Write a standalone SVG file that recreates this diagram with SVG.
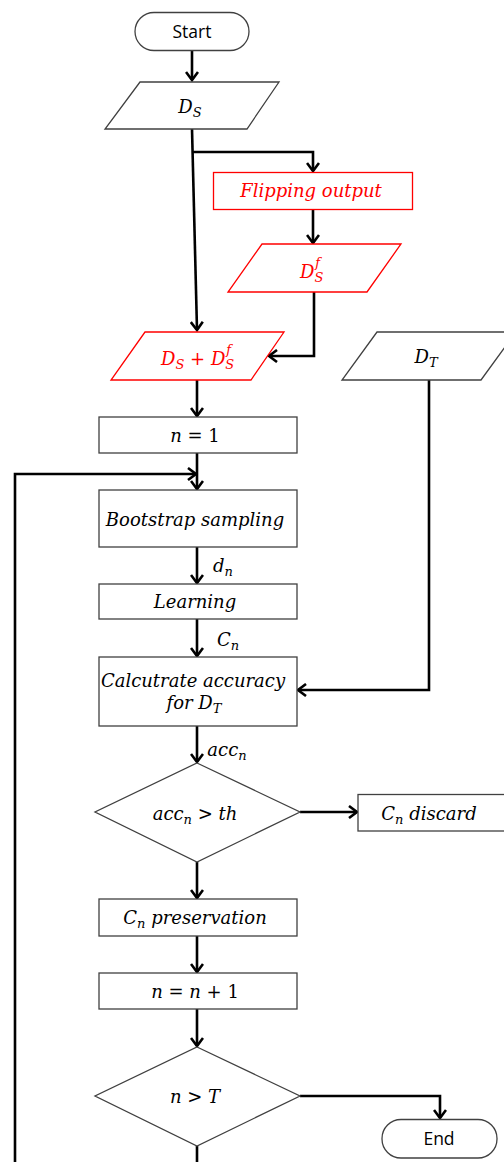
<svg xmlns="http://www.w3.org/2000/svg" width="504" height="1162" viewBox="0 0 504 1162">
<defs>
<style>
.bx{fill:#fff;stroke:#404040;stroke-width:1.3}
.rb{fill:#fff;stroke:#ff0000;stroke-width:1.3}
.m{font-family:"DejaVu Serif",serif;font-style:italic;font-size:18px;fill:#000;text-anchor:middle}
.red{fill:#ff0000}
.sub{font-size:13px}
.up{font-style:normal}
.s{font-family:"Open Sans","Liberation Sans",sans-serif;font-size:17.5px;fill:#000;text-anchor:middle}
.c{fill:none;stroke:#000;stroke-width:2.6}
</style>
<marker id="ah" markerUnits="userSpaceOnUse" markerWidth="14" markerHeight="14" refX="11" refY="7" orient="auto">
<path d="M3,1 L11,7 L3,13" fill="none" stroke="#000" stroke-width="2.6"/>
</marker>
</defs>
<g id="connectors">
<path class="c" d="M192,51 V80" marker-end="url(#ah)"/>
<path class="c" d="M192,129 L197,330" marker-end="url(#ah)"/>
<path class="c" d="M192,152 H313 V171" marker-end="url(#ah)"/>
<path class="c" d="M313,210 V243" marker-end="url(#ah)"/>
<path class="c" d="M314,292 V356 H269" marker-end="url(#ah)"/>
<path class="c" d="M197,380 V416" marker-end="url(#ah)"/>
<path class="c" d="M197,453 V489" marker-end="url(#ah)"/>
<path class="c" d="M15,1162 V474 H196" marker-end="url(#ah)"/>
<path class="c" d="M197,547 V583" marker-end="url(#ah)"/>
<path class="c" d="M197,619 V656" marker-end="url(#ah)"/>
<path class="c" d="M429,380 V690 H298" marker-end="url(#ah)"/>
<path class="c" d="M197,726 V762" marker-end="url(#ah)"/>
<path class="c" d="M300,812 H357" marker-end="url(#ah)"/>
<path class="c" d="M197,862 V898" marker-end="url(#ah)"/>
<path class="c" d="M197,936 V972" marker-end="url(#ah)"/>
<path class="c" d="M197,1009 V1046" marker-end="url(#ah)"/>
<path class="c" d="M300,1096 H440 V1118" marker-end="url(#ah)"/>
<path class="c" d="M197,1146 V1162"/>
<text class="m" x="223" y="572">d<tspan class="sub" dy="4">n</tspan></text>
<text class="m" x="228" y="646">C<tspan class="sub" dy="4">n</tspan></text>
<text class="m" x="227" y="756">acc<tspan class="sub" dy="4">n</tspan></text>
</g>
<g id="start">
<rect class="bx" x="135" y="12.5" width="114" height="38" rx="19"/>
<text class="s" x="192" y="38">Start</text>
</g>
<g id="ds">
<polygon class="bx" points="140,82 279,82 247,129 105,129"/>
<text class="m" x="190" y="113">D<tspan class="sub" dy="4">S</tspan></text>
</g>
<g id="flipping">
<rect class="rb" x="213.5" y="172.5" width="199" height="37"/>
<text class="m red" x="311" y="197">Flipping output</text>
</g>
<g id="dsf">
<polygon class="rb" points="262,244 401,244 367,292 228,292"/>
<text class="m red" x="300" y="278" style="text-anchor:start">D<tspan class="sub" dy="4">S</tspan><tspan class="sub" dx="-8" dy="-15">f</tspan></text>
</g>
<g id="dsplus">
<polygon class="rb" points="145,332 284,332 251,380 111,380"/>
<text class="m red" x="161" y="365" style="text-anchor:start">D<tspan class="sub" dy="4">S</tspan><tspan class="up" dy="-4"> + </tspan>D<tspan class="sub" dy="4">S</tspan><tspan class="sub" dx="-8" dy="-15">f</tspan></text>
</g>
<g id="dt">
<polygon class="bx" points="377,332 516,332 481,380 342,380"/>
<text class="m" x="426" y="363">D<tspan class="sub" dy="4">T</tspan></text>
</g>
<g id="n1">
<rect class="bx" x="99" y="417" width="198" height="36"/>
<text class="m" x="195" y="442">n<tspan class="up"> = 1</tspan></text>
</g>
<g id="bootstrap">
<rect class="bx" x="99" y="490" width="198" height="57"/>
<text class="m" x="195" y="526">Bootstrap sampling</text>
</g>
<g id="learning">
<rect class="bx" x="99" y="584" width="198" height="35"/>
<text class="m" x="195" y="608">Learning</text>
</g>
<g id="calc">
<rect class="bx" x="99" y="657" width="198" height="69"/>
<text class="m" x="193" y="687">Calcutrate accuracy</text>
<text class="m" x="194" y="709">for D<tspan class="sub" dy="4">T</tspan></text>
</g>
<g id="acc">
<polygon class="bx" points="197,763 300,812 197,862 95,812"/>
<text class="m" x="195" y="820">acc<tspan class="sub" dy="4">n</tspan><tspan class="up" dy="-4"> &gt; </tspan>th</text>
</g>
<g id="discard">
<rect class="bx" x="358" y="794.5" width="150" height="36.5"/>
<text class="m" x="429" y="820">C<tspan class="sub" dy="4">n</tspan><tspan dy="-4"> discard</tspan></text>
</g>
<g id="preservation">
<rect class="bx" x="99" y="899" width="198" height="37"/>
<text class="m" x="195" y="924">C<tspan class="sub" dy="4">n</tspan><tspan dy="-4"> preservation</tspan></text>
</g>
<g id="increment">
<rect class="bx" x="99" y="973" width="198" height="36"/>
<text class="m" x="195" y="998">n<tspan class="up"> = </tspan>n<tspan class="up"> + 1</tspan></text>
</g>
<g id="nT">
<polygon class="bx" points="197,1047 300,1096 197,1146 95,1096"/>
<text class="m" x="195" y="1103">n<tspan class="up"> &gt; </tspan>T</text>
</g>
<g id="end">
<rect class="bx" x="382" y="1119.5" width="115" height="38.5" rx="19"/>
<text class="s" x="439" y="1145">End</text>
</g>
</svg>
